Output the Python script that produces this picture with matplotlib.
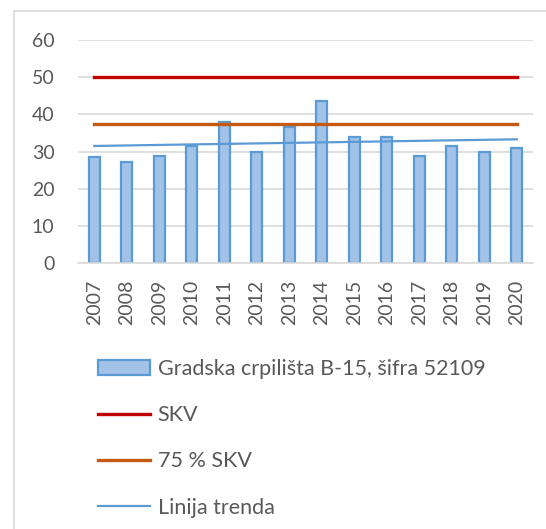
import numpy as np
import matplotlib
matplotlib.use('Agg')
import matplotlib.pyplot as plt
from matplotlib.lines import Line2D

# data
years = ['2007', '2008', '2009', '2010', '2011', '2012', '2013',
         '2014', '2015', '2016', '2017', '2018', '2019', '2020']
values = [28.6, 27.3, 28.7, 31.6, 38.0, 30.0, 36.7,
          43.6, 33.9, 33.9, 28.7, 31.5, 30.0, 30.9]
skv = 50.0
skv75 = 37.5
bar_label = 'Gradska crpilišta B-15, šifra 52109'

plt.rcParams['font.family'] = ['Lato', 'DejaVu Sans']
txt = '#595959'

fig = plt.figure(figsize=(5.46, 5.29), dpi=100)
ax = fig.add_axes([78/546, 1-263/529, 455/546, 223/529])

x = np.arange(len(years))
bars = ax.bar(x, values, width=0.35, color='#a2c2e8', edgecolor='#5b9bd5',
              linewidth=1.6, zorder=2, label=bar_label)
l1, = ax.plot([x[0], x[-1]], [skv, skv], color='#c00000', lw=2.4, zorder=3, label='SKV')
l2, = ax.plot([x[0], x[-1]], [skv75, skv75], color='#c55a11', lw=2.4, zorder=3, label='75 % SKV')
k, b = np.polyfit(x, values, 1)
l3, = ax.plot([x[0], x[-1]], [k*x[0]+b, k*x[-1]+b], color='#5b9bd5', lw=1.6, zorder=4,
              label='Linija trenda')

ax.set_xlim(-0.5, len(years)-0.5)
ax.set_ylim(0, 60)
ax.set_yticks(range(0, 61, 10))
ax.set_xticks(x)
ax.set_xticklabels(years, rotation=90)
ax.grid(axis='y', color='#d9d9d9', lw=1.2, zorder=0)
for s in ['top', 'right', 'left']:
    ax.spines[s].set_visible(False)
ax.spines['bottom'].set_color('#d9d9d9')
ax.spines['bottom'].set_linewidth(1.2)
ax.tick_params(axis='both', length=0, labelsize=14, labelcolor=txt)
ax.tick_params(axis='y', pad=17)
ax.tick_params(axis='x', pad=12)

fig.legend([bars, l1, l2, l3], [bar_label, 'SKV', '75 % SKV', 'Linija trenda'],
           loc='upper left', bbox_to_anchor=(79/546, 1-340/529),
           frameon=False, fontsize=15.5, labelcolor=txt, handlelength=2.42,
           handletextpad=0.33, labelspacing=1.21)

# chart border (left and top visible)
fig.add_artist(Line2D([14/546, 1], [1-11/529, 1-11/529], color='#d9d9d9', lw=1.2))
fig.add_artist(Line2D([14/546, 14/546], [0, 1-11/529], color='#d9d9d9', lw=1.2))

fig.savefig('out.png', dpi=100, facecolor='white')
